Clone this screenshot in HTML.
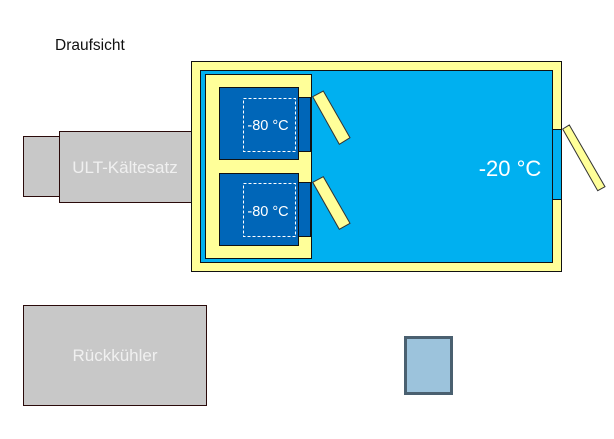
<!DOCTYPE html>
<html><head><style>body{margin:0;background:#fff}</style></head><body>
<svg width="614" height="434" xmlns="http://www.w3.org/2000/svg" font-family="Liberation Sans, Arial, sans-serif">
<rect width="614" height="434" fill="#fff"/>
<text x="55" y="50" font-size="15.5" fill="#111">Draufsicht</text>
<rect x="23.5" y="136.5" width="36" height="60" fill="#c8c8c8" stroke="#2a0a0a" stroke-width="1"/>
<rect x="59.5" y="131.5" width="133" height="71" fill="#c8c8c8" stroke="#2a0a0a" stroke-width="1"/>
<text x="125" y="173" font-size="17" fill="#f0f0f0" text-anchor="middle">ULT-Kältesatz</text>
<rect x="191.5" y="61.5" width="370" height="210" fill="#ffff99" stroke="#111" stroke-width="1"/>
<rect x="200.5" y="70.5" width="352" height="192" fill="#00b0f0" stroke="#111" stroke-width="1"/>
<rect x="205.5" y="74.5" width="106" height="184" fill="#ffff99" stroke="#111" stroke-width="1"/>
<rect x="219.5" y="87.5" width="79" height="72" fill="#0066b8" stroke="#111" stroke-width="1"/>
<rect x="219.5" y="173.5" width="79" height="72" fill="#0066b8" stroke="#111" stroke-width="1"/>
<rect x="298.5" y="97.5" width="12" height="54" fill="#0066b8" stroke="#111" stroke-width="1"/>
<rect x="298.5" y="182.5" width="12" height="54" fill="#0066b8" stroke="#111" stroke-width="1"/>
<rect x="243.5" y="98.5" width="52" height="53" fill="none" stroke="#fff" stroke-width="1" stroke-dasharray="3,2"/>
<rect x="243.5" y="183.5" width="52" height="53" fill="none" stroke="#fff" stroke-width="1" stroke-dasharray="3,2"/>
<text x="268" y="130" font-size="14.5" fill="#fff" text-anchor="middle">-80 °C</text>
<text x="268" y="216" font-size="14.5" fill="#fff" text-anchor="middle">-80 °C</text>
<polygon points="312.7,96.7 323.3,91 350,137.7 339.3,144.3" fill="#ffff99" stroke="#333" stroke-width="1"/>
<polygon points="312.7,182.3 323.3,176.7 350,223.3 339.3,229.3" fill="#ffff99" stroke="#333" stroke-width="1"/>
<text x="510" y="176" font-size="22" fill="#fff" text-anchor="middle">-20 °C</text>
<rect x="552.5" y="129.5" width="9" height="70" fill="#00b0f0" stroke="#111" stroke-width="1"/>
<polygon points="562.7,129 569.3,125 605,186.7 597.7,190.7" fill="#ffff99" stroke="#333" stroke-width="1"/>
<rect x="23.5" y="305.5" width="183" height="100" fill="#c8c8c8" stroke="#2a0a0a" stroke-width="1"/>
<text x="115" y="361" font-size="17" fill="#f0f0f0" text-anchor="middle">Rückkühler</text>
<rect x="405.5" y="337.5" width="46" height="56" fill="#9cc3dc" stroke="#4a6070" stroke-width="3"/>
</svg>
</body></html>
